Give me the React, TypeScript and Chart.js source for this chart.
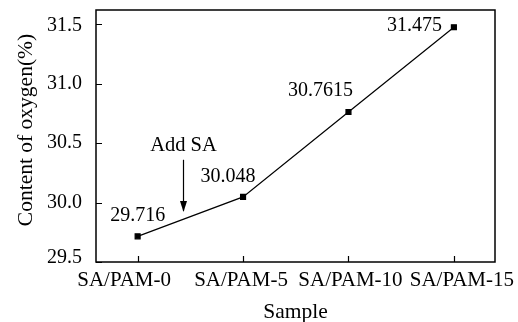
import React, { useEffect, useRef } from "react";
import { Chart, registerables } from "chart.js";

Chart.register(...registerables);

const categories = ["SA/PAM-0", "SA/PAM-5", "SA/PAM-10", "SA/PAM-15"];
const oxygen = [29.716, 30.048, 30.7615, 31.475];
const valueLabels = ["29.716", "30.048", "30.7615", "31.475"];
const yTicks = [29.5, 30.0, 30.5, 31.0, 31.5];
const xTitle = "Sample";
const yTitle = "Content of oxygen(%)";

const FONT = "'Liberation Serif', 'Times New Roman', serif";

// label placement (style)
const labelPlacement = [
  { dx: 0, dy: -21, align: "center" },
  { dx: -15, dy: -20, align: "center" },
  { dx: -28, dy: -21, align: "center" },
  { dx: -12, dy: -1, align: "right" },
];
const xLabelShift = [-13.5, -2, 2, 8];
const yLabelShift = [-4, 0, 0, 0.5, 1.5];

const annotation = { text: "Add SA", x: 0.43, textY: 30.48, arrowFrom: 30.36, arrowTo: 29.93 };

const framePlugin = {
  id: "frame",
  afterDraw(chart: any) {
    const { ctx, chartArea: a, scales } = chart;
    const xs = scales.x, ys = scales.y;
    ctx.save();
    ctx.strokeStyle = "#000";
    ctx.lineWidth = 1.5;
    ctx.strokeRect(a.left, a.top, a.right - a.left, a.bottom - a.top);
    ctx.lineWidth = 1.2;
    ctx.beginPath();
    for (let i = 0; i < categories.length; i++) {
      const px = Math.round(xs.getPixelForValue(i)) + 0.5;
      ctx.moveTo(px, a.bottom);
      ctx.lineTo(px, a.bottom - 6);
    }
    for (const v of yTicks) {
      const py = Math.round(ys.getPixelForValue(v)) + 0.5;
      ctx.moveTo(a.left, py);
      ctx.lineTo(a.left + 6, py);
    }
    ctx.stroke();

    ctx.fillStyle = "#000";
    // y tick labels
    ctx.font = `20px ${FONT}`;
    ctx.textAlign = "right";
    ctx.textBaseline = "middle";
    yTicks.forEach((v, i) => {
      ctx.fillText(v.toFixed(1), a.left - 14, ys.getPixelForValue(v) + yLabelShift[i]);
    });
    // x category labels
    ctx.font = `21px ${FONT}`;
    ctx.textAlign = "center";
    ctx.textBaseline = "alphabetic";
    for (let i = 0; i < categories.length; i++) {
      ctx.fillText(categories[i], xs.getPixelForValue(i) + xLabelShift[i], a.bottom + 24);
    }
    // axis titles
    ctx.font = `21.5px ${FONT}`;
    ctx.fillText(xTitle, (a.left + a.right) / 2, 318);
    ctx.save();
    ctx.translate(32, 130);
    ctx.rotate(-Math.PI / 2);
    ctx.fillText(yTitle, 0, 0);
    ctx.restore();

    // value labels
    ctx.font = `20px ${FONT}`;
    ctx.textBaseline = "middle";
    for (let i = 0; i < oxygen.length; i++) {
      const p = labelPlacement[i];
      const px = xs.getPixelForValue(i);
      const py = ys.getPixelForValue(oxygen[i]);
      ctx.textAlign = p.align as CanvasTextAlign;
      ctx.fillText(valueLabels[i], px + p.dx, py + p.dy);
    }

    // annotation
    const ax = Math.round(xs.getPixelForValue(annotation.x)) + 0.5;
    ctx.font = `20.5px ${FONT}`;
    ctx.textAlign = "center";
    ctx.fillText(annotation.text, ax, ys.getPixelForValue(annotation.textY));
    const y1 = ys.getPixelForValue(annotation.arrowFrom);
    const y2 = ys.getPixelForValue(annotation.arrowTo);
    ctx.lineWidth = 1.2;
    ctx.beginPath();
    ctx.moveTo(ax, y1);
    ctx.lineTo(ax, y2);
    ctx.stroke();
    ctx.beginPath();
    ctx.moveTo(ax, y2 + 1);
    ctx.lineTo(ax - 3.5, y2 - 10);
    ctx.lineTo(ax + 3.5, y2 - 10);
    ctx.closePath();
    ctx.fill();
    ctx.restore();
  },
};

export default function App() {
  const ref = useRef<HTMLCanvasElement>(null);
  useEffect(() => {
    document.body.style.margin = "0";
    const chart = new Chart(ref.current!, {
      type: "line",
      data: {
        datasets: [
          {
            data: oxygen.map((v, i) => ({ x: i, y: v })),
            borderColor: "#000",
            backgroundColor: "#000",
            borderWidth: 1.2,
            pointStyle: "rect",
            pointRadius: 3.5,
            pointHoverRadius: 3.5,
            fill: false,
            tension: 0,
          },
        ],
      },
      options: {
        responsive: false,
        animation: false,
        events: [],
        layout: { padding: { left: 0, right: 23, top: 10, bottom: 0 } },
        plugins: { legend: { display: false }, tooltip: { enabled: false } },
        scales: {
          x: {
            type: "linear",
            min: -0.395,
            max: 3.39,
            afterFit(s: any) { s.height = 60; },
            afterBuildTicks(s: any) { s.ticks = categories.map((_, i) => ({ value: i })); },
            grid: { display: false, drawTicks: false },
            border: { display: false },
            ticks: { display: false },
            title: { display: false },
          },
          y: {
            min: 29.5,
            max: 31.62,
            afterFit(s: any) { s.width = 96; },
            afterBuildTicks(s: any) { s.ticks = yTicks.map((v) => ({ value: v })); },
            grid: { display: false, drawTicks: false },
            border: { display: false },
            ticks: { display: false },
            title: { display: false },
          },
        },
      },
      plugins: [framePlugin],
    });
    return () => chart.destroy();
  }, []);
  return (
    <div style={{ width: 518, height: 322, background: "#fff" }}>
      <canvas ref={ref} width={518} height={322} />
    </div>
  );
}
